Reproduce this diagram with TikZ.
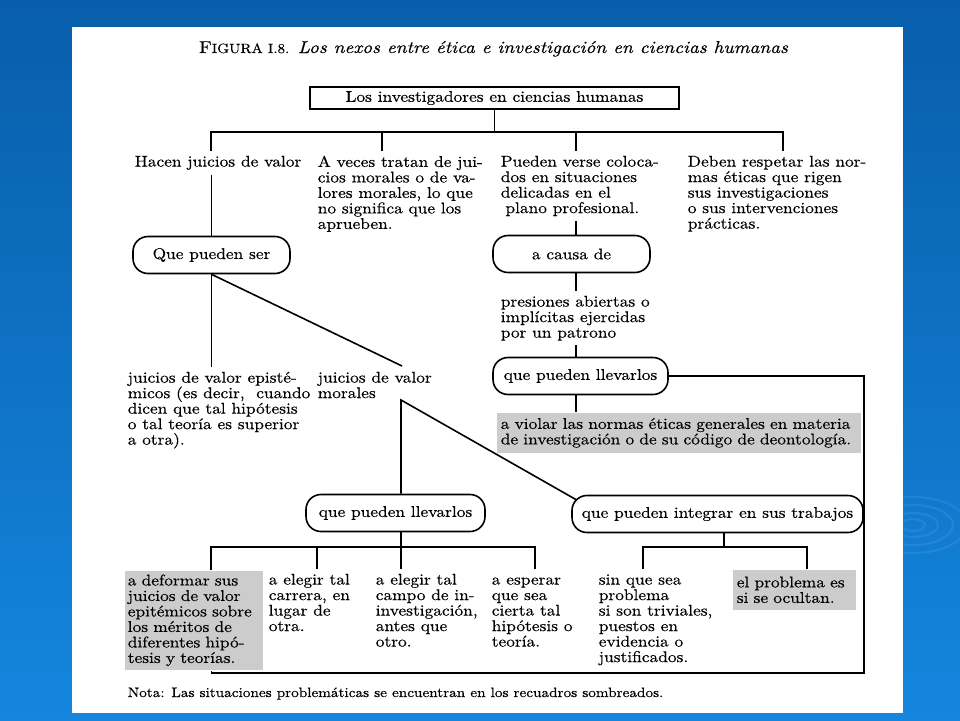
\documentclass[tikz,border=0pt]{standalone}
\usepackage{fontspec}
\usetikzlibrary{calc}
\newfontfamily\bodyfont{lmroman10}[Extension=.otf, UprightFont=*-regular, ItalicFont=*-italic, FakeStretch=1.12, FakeBold=0.4]
\newcommand\txtsize{\fontsize{15.5}{15.5}\selectfont}
\definecolor{bgtop}{RGB}{8,94,170}
\definecolor{bgbot}{RGB}{20,134,222}
\definecolor{shade}{RGB}{204,204,204}
\tikzset{
  txt/.style={inner xsep=0pt, inner ysep=4pt, anchor=north west, align=left, font=\bodyfont\txtsize},
  greybox/.style={fill=shade, anchor=north west, align=left, inner ysep=0pt, font=\bodyfont\txtsize},
  pill/.style={draw, line width=1.6pt, rounded corners=15pt, minimum height=37pt, inner sep=0pt, font=\bodyfont\txtsize},
}
\begin{document}
\begin{tikzpicture}[x=1pt, y=-1pt, line width=1.6pt]
    \useasboundingbox (0,0) rectangle (960,720);
    \shade[top color=bgtop, bottom color=bgbot] (0,0) rectangle (960,720);
    \foreach \rx/\ry in {12/6, 25/12, 40/20, 54/28} {
        \draw[white, opacity=0.08, line width=2pt] (913,525) ellipse ({\rx} and {\ry});
    }
    \fill[white] (72,27) rectangle (903,713);

    % title and top box
    \node[anchor=base, font=\bodyfont\fontsize{17.2}{19}\selectfont] (title) at (493.5,53)
        {F{\fontsize{13.5}{14}\selectfont IGURA I.8.} \itshape Los nexos entre ética e investigación en ciencias humanas};
    \node[draw, minimum width=369pt, minimum height=22pt, inner sep=0pt, font=\bodyfont\txtsize] (top) at (494.5,98)
        {Los investigadores en ciencias humanas};

    % first row
    \node[txt] (hacen) at (134,151) {Hacen juicios de valor};
    \node[txt] (aveces) at (317,151) {A veces tratan de jui-\\cios morales o de va-\\lores morales, lo que\\no significa que los\\aprueben.};
    \node[txt] (pueden) at (500,151) {Pueden verse coloca-\\dos en situaciones\\delicadas en el\\\hspace{0.3em}plano profesional.};
    \node[txt] (deben) at (687,151) {Deben respetar las nor-\\mas éticas que rigen\\sus investigaciones\\o sus intervenciones\\prácticas.};

    % right branch
    \node[pill, minimum width=157pt] (causa) at (571.5,254) {a causa de};
    \node[txt] (presiones) at (500,291) {presiones abiertas o\\implícitas ejercidas\\por un patrono};
    \node[pill, minimum width=175pt] (llevar1) at (580.5,376) {que pueden llevarlos};
    \node[greybox, minimum height=40pt, text width=356pt, inner xsep=4pt] (violar) at (496,412)
        {a violar las normas éticas generales en materia\\de investigación o de su código de deontología.};

    % left branch
    \node[pill, minimum width=157pt] (ser) at (211.5,255) {Que pueden ser};
    \node[txt] (epist) at (127,367) {juicios de valor episté-\\micos (es decir,\ \ cuando\\dicen que tal hipótesis\\o tal teoría es superior\\a otra).};
    \node[txt] (morales) at (317,367) {juicios de valor\\morales};
    \node[pill, minimum width=179pt] (llevar2) at (395.5,513) {que pueden llevarlos};
    \node[pill, minimum width=291pt] (integrar) at (717.5,514) {que pueden integrar en sus trabajos};

    % bottom row
    \node[greybox, minimum height=99pt, text width=132pt, inner xsep=3pt] (deformar) at (124,570)
        {a deformar sus\\juicios de valor\\epitémicos sobre\\los méritos de\\diferentes hipó-\\tesis y teorías.};
    \node[txt] (carrera) at (268,569) {a elegir tal\\carrera, en\\lugar de\\otra.};
    \node[txt] (campo) at (375,569) {a elegir tal\\campo de in-\\investigación,\\antes que\\otro.};
    \node[txt] (esperar) at (491,569) {\vphantom{l}a esperar\\que sea\\cierta tal\\hipótesis o\\teoría.};
    \node[txt] (sinque) at (598,569) {\vphantom{l}sin que sea\\problema\\si son triviales,\\puestos en\\evidencia o\\justificados.};
    \node[greybox, minimum height=40pt, text width=115pt, inner xsep=4pt] (oculta) at (732,569)
        {el problema es\\si se ocultan.};

    \node[anchor=base west, inner sep=0pt, font=\bodyfont\fontsize{13.6}{15}\selectfont] (nota) at (127,697)
        {Nota: Las situaciones problemáticas se encuentran en los recuadros sombreados.};

    % connectors
    \coordinate (b1) at (211,132);
    \coordinate (b2) at (382,132);
    \coordinate (b3) at (576,132);
    \coordinate (b4) at (783,132);
    \draw (top.south) -- (top.south |- b1);
    \draw (hacen.north -| b1) -- (b1) -- (b4) -- (deben.north -| b4);
    \draw (b2) -- (aveces.north -| b2);
    \draw (b3) -- (pueden.north -| b3);
    \draw (pueden.south -| b3) -- (causa.north -| b3);
    \draw (causa.south -| b3) -- (presiones.north -| b3);
    \draw (presiones.south -| b3) -- (llevar1.north -| b3);
    \draw (llevar1.south -| b3) -- (violar.north -| b3);
    \coordinate (r1) at (864,673);
    \draw (llevar1.east) -| (r1) -| (deformar.south -| ser.south);

    \draw (hacen.south -| ser.north) -- (ser.north);
    \draw (ser.south) -- (epist.north -| ser.south);
    \coordinate (m1) at (402,366);
    \coordinate (m2) at (401,400);
    \draw (ser.south) -- (m1);
    \draw (llevar2.north -| m2) -- (m2) -- ($(integrar.north west)+(5,5)$);

    \coordinate (d1) at (211,547);
    \coordinate (d2) at (317,547);
    \coordinate (d3) at (401,547);
    \coordinate (d4) at (535,547);
    \draw (llevar2.south -| d3) -- (d3);
    \draw (deformar.north -| d1) -- (d1) -- (d4) -- (esperar.north -| d4);
    \draw (d2) -- (carrera.north -| d2);
    \draw (d3) -- (campo.north -| d3);

    \coordinate (i0) at (724,547);
    \coordinate (i1) at (643,547);
    \coordinate (i2) at (807,547);
    \draw (integrar.south -| i0) -- (i0);
    \draw (sinque.north -| i1) -- (i1) -- (i2) -- (oculta.north -| i2);
\end{tikzpicture}
\end{document}
